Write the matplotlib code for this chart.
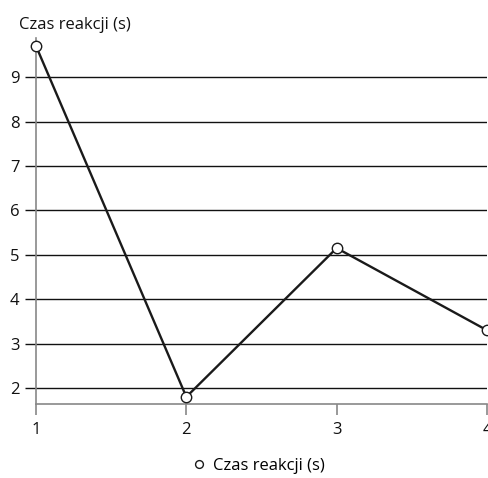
import matplotlib
matplotlib.use('Agg')
import matplotlib.pyplot as plt

plt.rcParams['font.family'] = ['Open Sans', 'DejaVu Sans']

trials = [1, 2, 3, 4]
reaction_time = [9.7, 1.8, 5.15, 3.3]
series_name = 'Czas reakcji (s)'
y_ticks = [2, 3, 4, 5, 6, 7, 8, 9]

fig = plt.figure(figsize=(4.89, 4.78), dpi=100)
ax = fig.add_axes([36 / 489, 1 - 404 / 478, (487 - 36) / 489, (404 - 38) / 478])

ax.plot(trials, reaction_time, color='#1a1a1a', linewidth=1.7,
        marker='o', markersize=7.5, markerfacecolor='white',
        markeredgecolor='#1a1a1a', markeredgewidth=1.0,
        label=series_name, clip_on=False, zorder=3)

ax.set_xlim(1, 4)
ax.set_ylim(1.64, 9.88)
ax.set_xticks(trials)
ax.set_yticks(y_ticks)

ax.grid(axis='y', color='#111111', linewidth=1.0)
ax.set_axisbelow(True)

for side in ['top', 'right']:
    ax.spines[side].set_visible(False)
for side in ['left', 'bottom']:
    ax.spines[side].set_color('#888888')
    ax.spines[side].set_linewidth(1.2)

ax.tick_params(axis='y', length=8, width=1.0, color='#111111',
               labelsize=12, pad=4, labelcolor='#111111')
ax.tick_params(axis='x', length=8, width=1.2, color='#888888',
               labelsize=12, pad=5, labelcolor='#111111')

fig.text(19 / 489, 1 - 25 / 478, series_name, fontsize=12,
         color='#111111', va='center', ha='left')

ax.legend(loc='center', bbox_to_anchor=(0.53, 1 - 466 / 478),
          bbox_transform=fig.transFigure, frameon=False, fontsize=12,
          handlelength=0.7, handletextpad=0.5, markerscale=0.75)
leg = ax.get_legend()
leg.get_lines()[0].set_linestyle('none')

fig.savefig('out.png', dpi=100)
